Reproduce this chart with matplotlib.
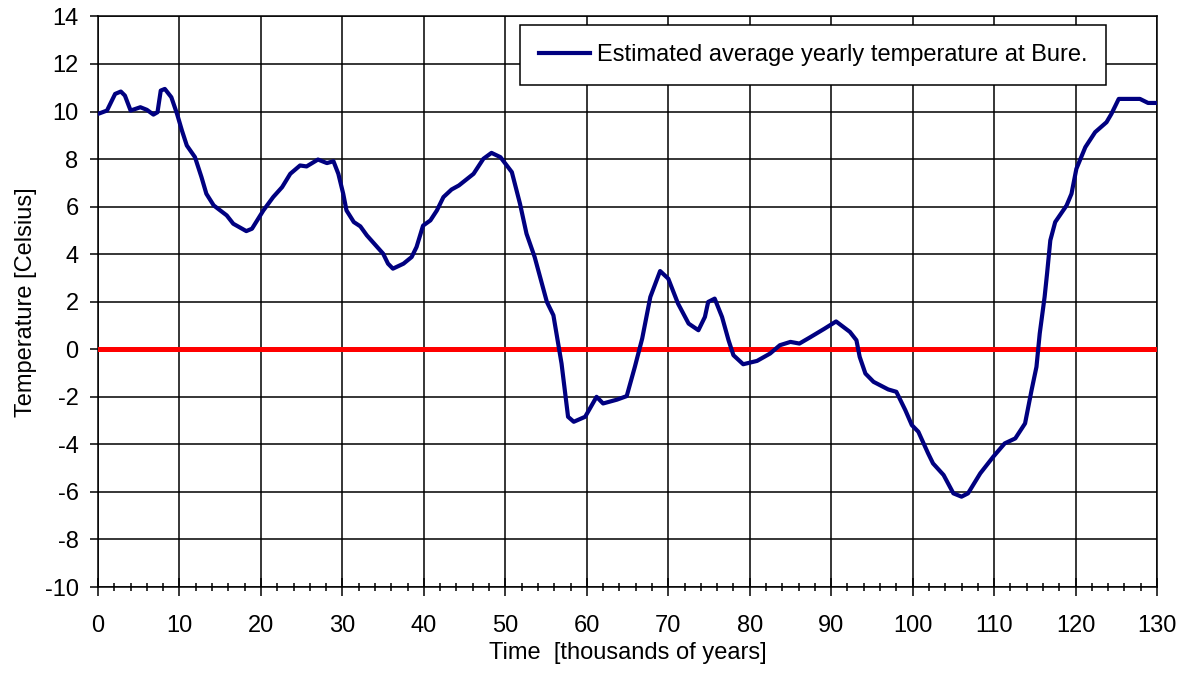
import numpy as np
import matplotlib.pyplot as plt
from matplotlib.ticker import MultipleLocator

# time in thousands of years, temperature in Celsius
time_kyr = [0.0, 1.1, 2.1, 2.8, 3.3, 4.0, 5.2, 6.0, 6.8, 7.3, 7.7, 8.2, 9.0, 9.7,
            10.3, 10.9, 11.9, 12.7, 13.3, 14.2, 15.8, 16.6, 18.2, 18.9, 20.3, 21.5,
            22.6, 23.6, 24.8, 25.6, 27.0, 28.1, 28.9, 29.5, 30.1, 30.5, 31.4, 32.2,
            33.0, 35.0, 35.6, 36.2, 37.5, 38.5, 39.1, 39.9, 40.8, 41.6, 42.4, 43.4,
            44.3, 46.1, 47.3, 48.3, 49.4, 50.8, 51.8, 52.6, 53.6, 55.1, 55.9, 56.9,
            57.7, 58.4, 59.8, 61.2, 62.0, 63.7, 64.9, 65.9, 66.8, 67.8, 69.0, 70.0,
            71.2, 72.5, 73.7, 74.5, 74.9, 75.7, 76.6, 77.4, 78.0, 79.2, 80.9, 82.5,
            83.7, 85.0, 86.1, 87.4, 89.2, 90.6, 92.3, 93.1, 93.5, 94.2, 95.2, 97.0,
            98.0, 99.1, 99.9, 100.7, 101.9, 102.5, 103.8, 105.0, 106.0, 106.8, 108.3,
            109.9, 111.3, 112.6, 113.8, 114.6, 115.2, 115.6, 116.2, 116.5, 116.9,
            117.5, 118.9, 119.5, 120.1, 121.2, 122.4, 123.8, 124.4, 125.3, 127.9,
            128.9, 130.0]
temp_c = [9.9, 10.04, 10.74, 10.84, 10.67, 10.04, 10.18, 10.07, 9.87, 9.97, 10.88,
          10.95, 10.6, 9.9, 9.2, 8.57, 8.08, 7.24, 6.54, 6.05, 5.63, 5.28, 4.97, 5.07,
          5.84, 6.4, 6.82, 7.38, 7.73, 7.69, 7.98, 7.83, 7.91, 7.38, 6.54, 5.84, 5.35,
          5.17, 4.79, 4.02, 3.6, 3.39, 3.6, 3.88, 4.3, 5.2, 5.42, 5.84, 6.4, 6.72,
          6.89, 7.38, 8.01, 8.26, 8.08, 7.45, 6.12, 4.86, 3.88, 1.99, 1.43, -0.6,
          -2.84, -3.05, -2.84, -2.0, -2.28, -2.12, -1.97, -0.74, 0.45, 2.2, 3.29,
          2.97, 1.92, 1.08, 0.8, 1.36, 1.99, 2.13, 1.36, 0.38, -0.25, -0.63, -0.49,
          -0.18, 0.17, 0.31, 0.24, 0.5, 0.87, 1.17, 0.73, 0.38, -0.32, -1.02, -1.37,
          -1.69, -1.79, -2.56, -3.19, -3.47, -4.38, -4.8, -5.29, -6.06, -6.2, -6.06,
          -5.22, -4.52, -3.96, -3.75, -3.12, -1.72, -0.74, 0.66, 2.2, 3.18, 4.58,
          5.35, 6.05, 6.54, 7.59, 8.5, 9.13, 9.55, 9.9, 10.53, 10.53, 10.36, 10.36]

zero_x = [0, 130]
zero_y = [0, 0]

plt.rcParams['font.family'] = ['Liberation Sans', 'DejaVu Sans']
plt.rcParams['font.size'] = 17
plt.rcParams['axes.unicode_minus'] = False

fig = plt.figure(figsize=(11.81, 6.78), dpi=100)
ax = fig.add_axes([0.083, 0.1342, 0.8967, 0.8416])

ax.plot(zero_x, zero_y, color='#ff0000', lw=3.6, zorder=3)
ax.plot(time_kyr, temp_c, color='#000080', lw=3.0, zorder=4,
        label='Estimated average yearly temperature at Bure.')

ax.set_xlim(0, 130)
ax.set_ylim(-10, 14)
ax.xaxis.set_major_locator(MultipleLocator(10))
ax.xaxis.set_minor_locator(MultipleLocator(2))
ax.yaxis.set_major_locator(MultipleLocator(2))
ax.grid(True, which='major', color='black', lw=1.1)
ax.set_axisbelow(True)

ax.tick_params(axis='x', which='major', direction='inout', length=13, width=1.1, pad=14)
ax.tick_params(axis='x', which='minor', direction='inout', length=6, width=1.1)
ax.tick_params(axis='y', which='major', direction='out', length=6, width=1.1, pad=8)
for s in ax.spines.values():
    s.set_linewidth(1.1)

ax.set_xlabel('Time  [thousands of years]', labelpad=3)
ax.set_ylabel('Temperature [Celsius]', labelpad=5.5)

leg = ax.legend(loc='upper right', bbox_to_anchor=(0.952, 0.985), frameon=True,
                fancybox=False, framealpha=1, edgecolor='black', handlelength=2.15,
                handletextpad=0.3, borderpad=0.8, borderaxespad=0)
leg.get_frame().set_linewidth(1.1)

fig.savefig('out.png', dpi=100)
